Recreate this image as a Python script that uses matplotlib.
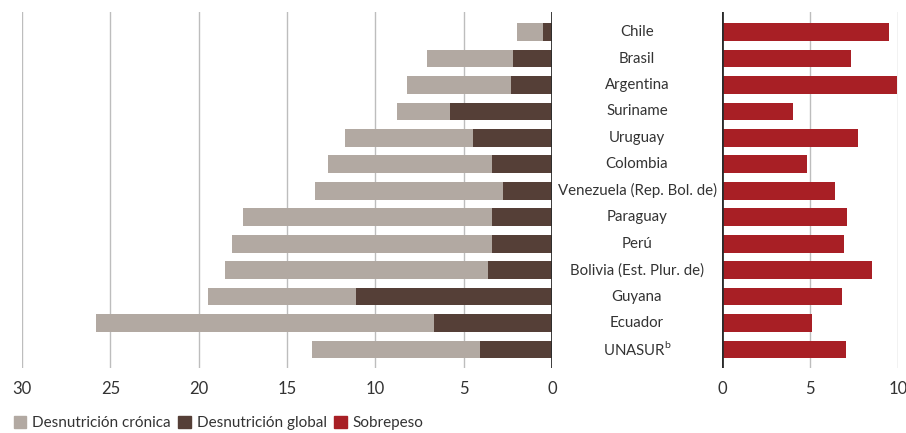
import matplotlib.pyplot as plt
import matplotlib.transforms as mtransforms
from matplotlib.patches import Patch

plt.rcParams['font.family'] = ['Lato', 'DejaVu Sans']
plt.rcParams['mathtext.fontset'] = 'custom'
plt.rcParams['mathtext.rm'] = 'Lato'

paises = ['Chile', 'Brasil', 'Argentina', 'Suriname', 'Uruguay', 'Colombia',
          'Venezuela (Rep. Bol. de)', 'Paraguay', 'Perú', 'Bolivia (Est. Plur. de)',
          'Guyana', 'Ecuador', 'UNASUR$^{\\mathrm{b}}$']
cronica = [2.0, 7.1, 8.2, 8.8, 11.7, 12.7, 13.4, 17.5, 18.1, 18.5, 19.5, 25.8, 13.6]
glob = [0.5, 2.2, 2.3, 5.8, 4.5, 3.4, 2.8, 3.4, 3.4, 3.6, 11.1, 6.7, 4.1]
sobrepeso = [9.5, 7.35, 9.95, 4.05, 7.7, 4.85, 6.4, 7.1, 6.95, 8.5, 6.8, 5.1, 7.05]

c_cron = '#b2a9a2'
c_glob = '#553f37'
c_sobre = '#a81f25'
c_grid = '#bdbdbd'

fig = plt.figure(figsize=(9.06, 4.33), dpi=100)
ax1 = fig.add_axes([22/906, 1-368/433, 530/906, 356/433])
ax2 = fig.add_axes([722/906, 1-368/433, 176/906, 356/433])

y = list(range(len(paises)))
h = 0.67
ax1.barh(y, cronica, height=h, color=c_cron, zorder=2)
ax1.barh(y, glob, height=h, color=c_glob, zorder=3)
ax2.barh(y, sobrepeso, height=h, color=c_sobre, zorder=2)

ax1.set_xlim(30, 0)
ax1.set_xticks([30, 25, 20, 15, 10, 5, 0])
ax2.set_xlim(0, 10)
ax2.set_xticks([0, 5, 10])

for ax in (ax1, ax2):
    ax.set_ylim(12.7, -0.76)
    ax.set_yticks([])
    for s in ax.spines.values():
        s.set_visible(False)
    ax.grid(axis='x', color=c_grid, linewidth=1, zorder=0)
    ax.tick_params(axis='x', length=0, pad=9, labelsize=12, labelcolor='#333333')
    ax.axvline(0, color='#2b2b2b', linewidth=2, zorder=4)

trans = mtransforms.blended_transform_factory(ax2.transAxes, ax2.transData)
for i, p in enumerate(paises):
    ax2.text(-85/176, i, p, transform=trans, ha='center', va='center',
             fontsize=10.8, color='#333333')

handles = [Patch(color=c_cron), Patch(color=c_glob), Patch(color=c_sobre)]
fig.legend(handles, ['Desnutrición crónica', 'Desnutrición global', 'Sobrepeso'],
           loc='lower left', bbox_to_anchor=(0.0, -0.025), ncol=3, frameon=False,
           fontsize=11, handlelength=0.8, handleheight=0.8, handletextpad=0.4,
           columnspacing=0.5, labelcolor='#333333')

fig.savefig('out.png', dpi=100)
